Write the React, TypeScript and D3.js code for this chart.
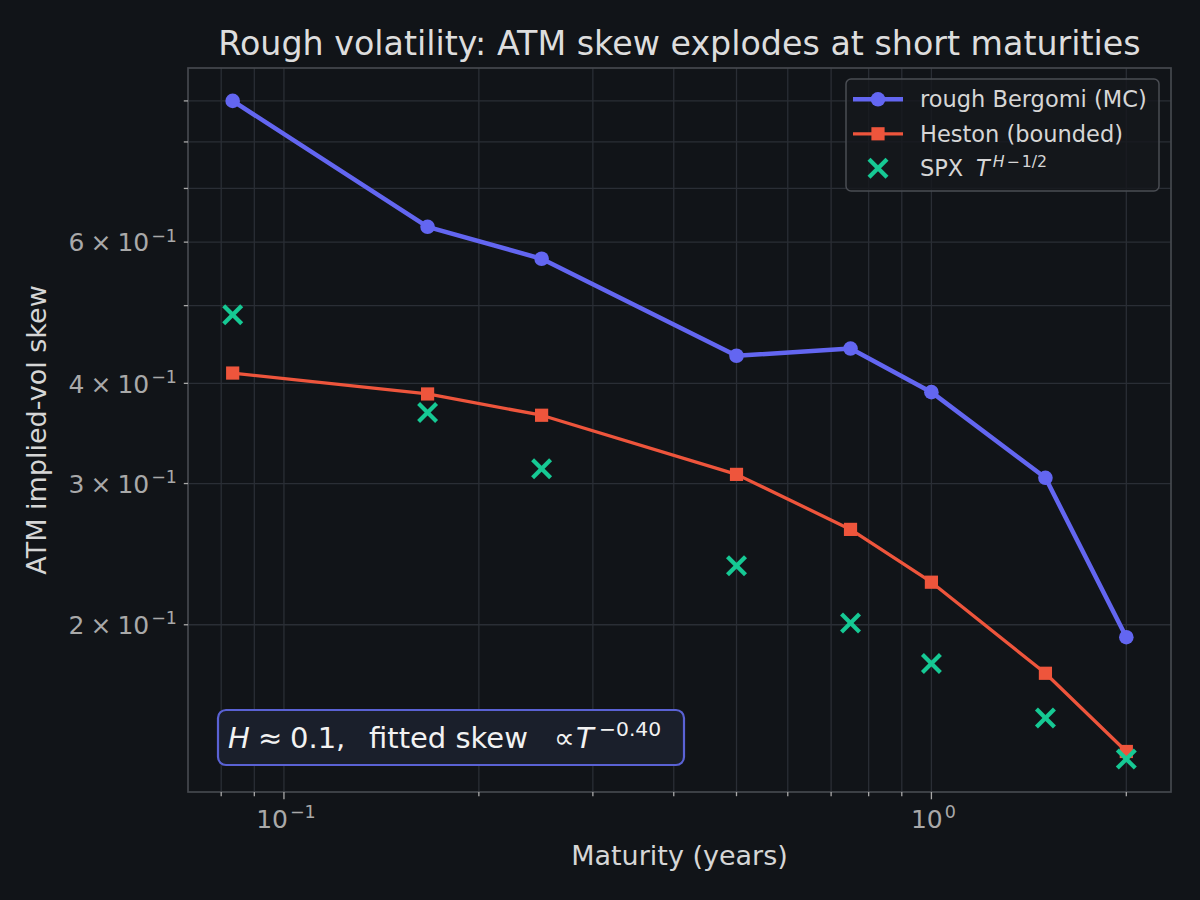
import React from 'react';
import * as d3 from 'd3';

// maturities in years and ATM skew estimates
const maturities = [1 / 12, 1 / 6, 0.25, 0.5, 0.75, 1.0, 1.5, 2.0];
const roughBergomi = [0.9, 0.627, 0.572, 0.433, 0.442, 0.39, 0.305, 0.193];
const heston = [0.412, 0.388, 0.365, 0.308, 0.263, 0.226, 0.174, 0.139];
const spx = [0.487, 0.368, 0.313, 0.237, 0.201, 0.179, 0.153, 0.136];

const xMajorTicks = [0.1, 1];
const xMajorExponents = ['\u22121', '0'];
const xMinorTicks = [0.08, 0.09, 0.2, 0.3, 0.4, 0.5, 0.6, 0.7, 0.8, 0.9, 2];
const yMinorTicks = [0.2, 0.3, 0.4, 0.5, 0.6, 0.7, 0.8, 0.9];
const yLabelTicks = [0.2, 0.3, 0.4, 0.6];
const yLabelMantissas = ['2', '3', '4', '6'];

const BG = '#111418';
const GRID = '#2a2e35';
const SPINE = '#45484e';
const TICK_TEXT = '#a9a9a9';
const LABEL_TEXT = '#d6d6d6';
const C_RB = '#6366f1';
const C_HE = '#ee553c';
const C_SPX = '#16c994';
const FONT = 'DejaVu Sans';

const left = 188;
const right = 1171;
const top = 68;
const bottom = 792;

// matplotlib-style 5% margin in log space
function logDomain(vals: number[]): [number, number] {
  const lo = Math.log10(d3.min(vals) as number);
  const hi = Math.log10(d3.max(vals) as number);
  const pad = (hi - lo) * 0.05;
  return [Math.pow(10, lo - pad), Math.pow(10, hi + pad)];
}

const XMarker = ({ x, y, r, color }: { x: number; y: number; r: number; color: string }) => (
  <g stroke={color} strokeWidth={4.2}>
    <line x1={x - r} y1={y - r} x2={x + r} y2={y + r} />
    <line x1={x - r} y1={y + r} x2={x + r} y2={y - r} />
  </g>
);

const App = () => {
  const x = d3.scaleLog().domain(logDomain(maturities)).range([left, right]);
  const y = d3
    .scaleLog()
    .domain(logDomain([...roughBergomi, ...heston, ...spx]))
    .range([bottom, top]);

  const line = d3
    .line<number>()
    .x((_, i) => x(maturities[i]))
    .y((d) => y(d));

  const legendX = 846;
  const legendY = 79;
  const rowH = 34.5;

  return (
    <svg
      width={1200}
      height={900}
      style={{ position: 'absolute', left: 0, top: 0, background: BG }}
      fontFamily={FONT}
    >
      <rect width={1200} height={900} fill={BG} />

      {/* grid */}
      <g stroke={GRID} strokeWidth={1.3}>
        {[...xMinorTicks, ...xMajorTicks].map((t) => (
          <line key={'gx' + t} x1={x(t)} x2={x(t)} y1={top} y2={bottom} />
        ))}
        {yMinorTicks.map((t) => (
          <line key={'gy' + t} x1={left} x2={right} y1={y(t)} y2={y(t)} />
        ))}
      </g>

      {/* series */}
      <path d={line(roughBergomi) || ''} fill="none" stroke={C_RB} strokeWidth={4.5} strokeLinejoin="round" />
      {roughBergomi.map((v, i) => (
        <circle key={'rb' + i} cx={x(maturities[i])} cy={y(v)} r={7.3} fill={C_RB} />
      ))}
      <path d={line(heston) || ''} fill="none" stroke={C_HE} strokeWidth={3.3} strokeLinejoin="round" />
      {heston.map((v, i) => (
        <rect key={'he' + i} x={x(maturities[i]) - 6.6} y={y(v) - 6.6} width={13.2} height={13.2} fill={C_HE} />
      ))}
      {spx.map((v, i) => (
        <XMarker key={'spx' + i} x={x(maturities[i])} y={y(v)} r={9} color={C_SPX} />
      ))}

      {/* spines */}
      <rect x={left} y={top} width={right - left} height={bottom - top} fill="none" stroke={SPINE} strokeWidth={1.7} />

      {/* ticks */}
      <g stroke={TICK_TEXT} strokeWidth={1.3}>
        {xMajorTicks.map((t) => (
          <line key={'xt' + t} x1={x(t)} x2={x(t)} y1={bottom} y2={bottom + 7.3} />
        ))}
        {xMinorTicks.map((t) => (
          <line key={'xm' + t} x1={x(t)} x2={x(t)} y1={bottom} y2={bottom + 4.2} />
        ))}
        {yMinorTicks.map((t) => (
          <line key={'ym' + t} x1={left} x2={left - 4.2} y1={y(t)} y2={y(t)} />
        ))}
      </g>
      {xMajorTicks.map((t, i) => (
        <text key={'xl' + t} x={x(t) + 2} y={828} textAnchor="middle" fontSize={25} fill={TICK_TEXT}>
          10
          <tspan dx={2} dy={-10} fontSize={17.5}>
            {xMajorExponents[i]}
          </tspan>
        </text>
      ))}
      {yLabelTicks.map((t, i) => (
        <text key={'yl' + t} x={177} y={y(t) + 9.2} textAnchor="end" fontSize={25} fill={TICK_TEXT}>
          {yLabelMantissas[i]}
          <tspan dx={6}>×</tspan>
          <tspan dx={6}>10</tspan>
          <tspan dx={2} dy={-9.5} fontSize={17.5}>
            {'\u22121'}
          </tspan>
        </text>
      ))}

      {/* labels */}
      <text x={(left + right) / 2} y={55} textAnchor="middle" fontSize={33.3} fill="#dddddd">
        Rough volatility: ATM skew explodes at short maturities
      </text>
      <text x={(left + right) / 2} y={865} textAnchor="middle" fontSize={27} fill={LABEL_TEXT}>
        Maturity (years)
      </text>
      <text
        transform={`translate(46, ${(top + bottom) / 2}) rotate(-90)`}
        textAnchor="middle"
        fontSize={27}
        fill={LABEL_TEXT}
      >
        ATM implied-vol skew
      </text>

      {/* legend */}
      <rect
        x={legendX}
        y={legendY}
        width={313}
        height={112}
        rx={5}
        fill="#15181d"
        fillOpacity={0.8}
        stroke="#4a4d53"
        strokeWidth={1.5}
      />
      <line x1={853} x2={903} y1={legendY + 20.3} y2={legendY + 20.3} stroke={C_RB} strokeWidth={4.5} />
      <circle cx={878} cy={legendY + 20.3} r={7.3} fill={C_RB} />
      <text x={920} y={legendY + 20.3 + 8} fontSize={22.5} fill={LABEL_TEXT}>
        rough Bergomi (MC)
      </text>
      <line x1={853} x2={903} y1={legendY + 20.3 + rowH} y2={legendY + 20.3 + rowH} stroke={C_HE} strokeWidth={3.3} />
      <rect x={878 - 6.6} y={legendY + 20.3 + rowH - 6.6} width={13.2} height={13.2} fill={C_HE} />
      <text x={920} y={legendY + 20.3 + rowH + 8} fontSize={22.5} fill={LABEL_TEXT}>
        Heston (bounded)
      </text>
      <XMarker x={878} y={legendY + 20.3 + 2 * rowH} r={9} color={C_SPX} />
      <text x={920} y={legendY + 20.3 + 2 * rowH + 8} fontSize={22.5} fill={LABEL_TEXT}>
        SPX
        <tspan x={976} fontStyle="italic">T</tspan>
        <tspan dx={3} dy={-9} fontSize={15.75} fontStyle="italic">H</tspan>
        <tspan dx={2} fontSize={15.75}>{'\u2212'}</tspan>
        <tspan dx={2} fontSize={15.75}>1/2</tspan>
      </text>

      {/* annotation */}
      <rect x={218} y={710} width={466} height={55} rx={8} fill="#1a1f2b" stroke="#5a62d4" strokeWidth={2.2} />
      <g fontSize={29} fill="#f2f2f2">
        <text x={228} y={748} fontStyle="italic">H</text>
        <text x={258} y={748}>≈</text>
        <text x={290} y={748}>0.1,</text>
        <text x={369} y={748}>fitted skew</text>
        <text x={554} y={748}>∝</text>
        <text x={576} y={748} fontStyle="italic">T</text>
        <text x={599} y={736} fontSize={20.3}>{'\u22120.40'}</text>
      </g>
    </svg>
  );
};

export default App;
